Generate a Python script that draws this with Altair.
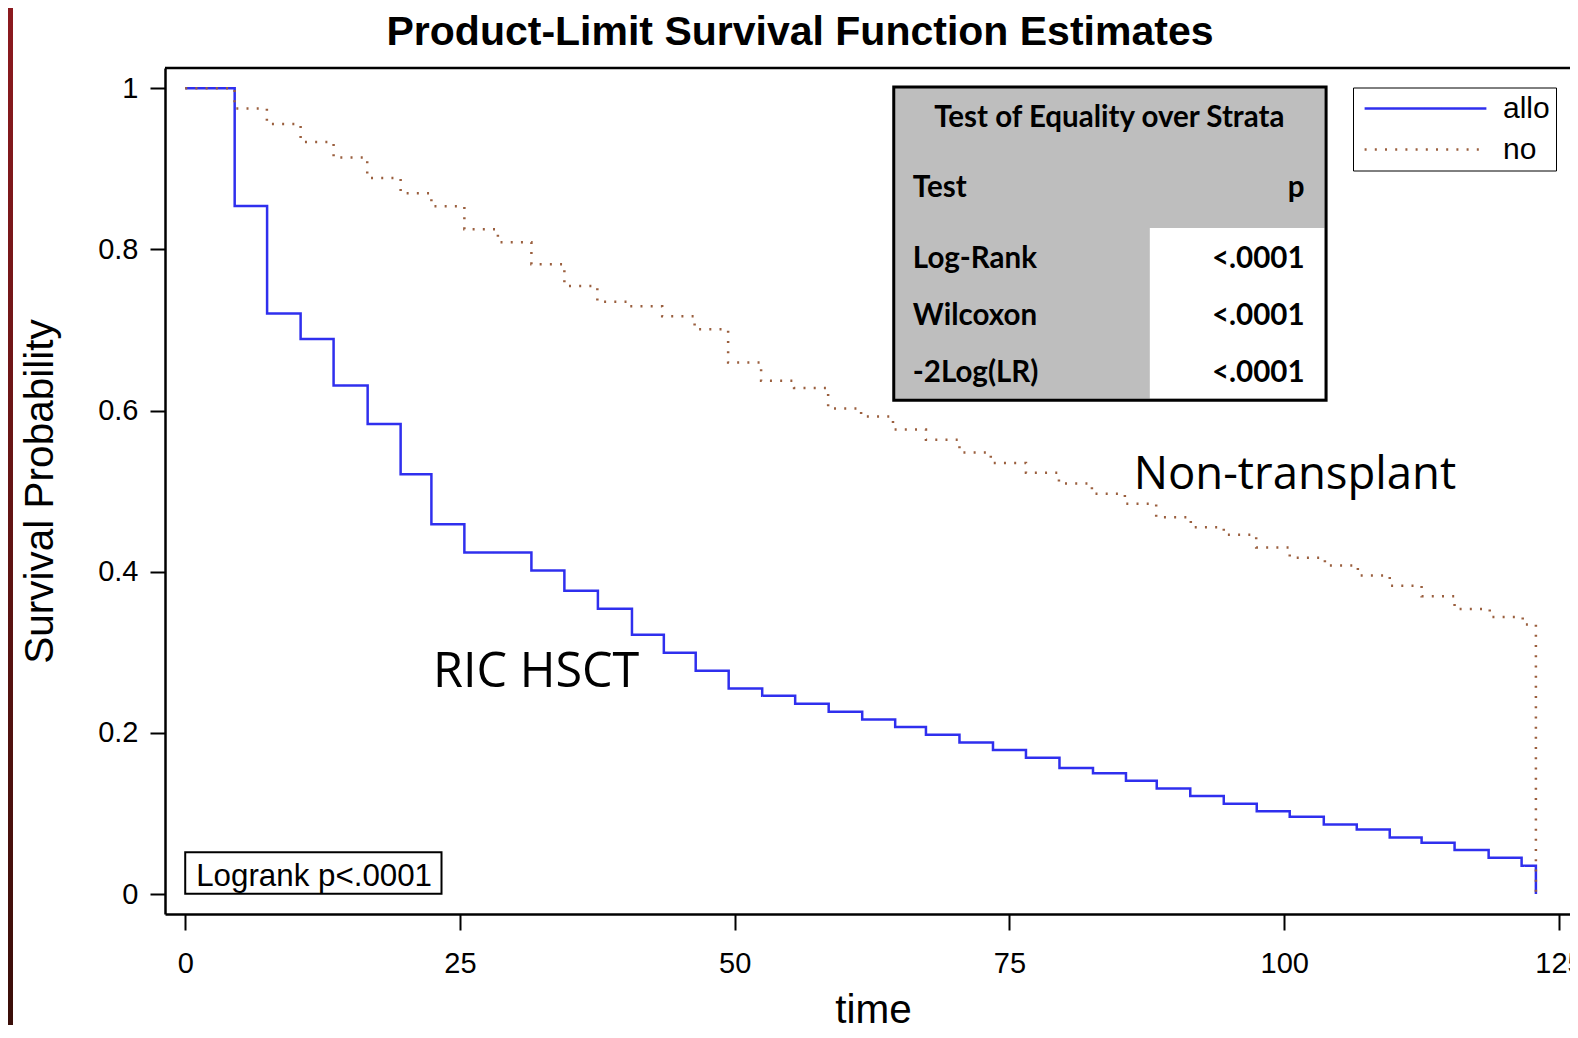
import altair as alt
import pandas as pd

# ---------------- data ----------------
allo_time = [0, 4.5, 7.45, 10.5, 13.5, 16.6, 19.6, 22.4, 25.4, 31.5, 34.5, 37.55,
             40.65, 43.55, 46.45, 49.45, 52.5, 55.5, 58.55, 61.6, 64.6, 67.4, 70.45,
             73.5, 76.5, 79.55, 82.6, 85.6, 88.4, 91.45, 94.5, 97.5, 100.5, 103.6,
             106.6, 109.6, 112.5, 115.5, 118.6, 121.6, 122.9]
allo_surv = [1.0, 0.854, 0.7205, 0.689, 0.631, 0.5835, 0.521, 0.459, 0.424, 0.4016,
             0.3763, 0.354, 0.3217, 0.2994, 0.277, 0.2552, 0.246, 0.2361, 0.2262,
             0.2167, 0.2072, 0.1977, 0.1882, 0.1787, 0.1691, 0.1563, 0.150, 0.1406,
             0.1311, 0.1216, 0.112, 0.1026, 0.0959, 0.0864, 0.0802, 0.0703, 0.0637,
             0.0546, 0.045, 0.0351, 0.0]

no_time = [0, 4.49, 7.43, 10.5, 13.5, 16.56, 19.6, 22.4, 25.4, 28.45, 31.5, 34.5,
           37.5, 40.4, 43.4, 46.35, 49.4, 52.4, 55.4, 58.5, 61.5, 64.4, 67.4, 70.45,
           73.3, 76.5, 79.5, 82.5, 85.5, 88.35, 91.5, 94.5, 97.45, 100.5, 103.7,
           106.7, 109.6, 112.5, 115.5, 118.7, 121.7, 122.9]
no_surv = [1.0, 0.9748, 0.9557, 0.9334, 0.914, 0.8888, 0.8697, 0.8536, 0.825, 0.809,
           0.7816, 0.7547, 0.735, 0.7295, 0.717, 0.701, 0.6596, 0.637, 0.628, 0.6026,
           0.5927, 0.5765, 0.5637, 0.548, 0.535, 0.5227, 0.5095, 0.4967, 0.4843,
           0.4677, 0.4553, 0.4458, 0.430, 0.4173, 0.4078, 0.3954, 0.3825, 0.3697,
           0.3536, 0.3437, 0.3346, 0.0]

groups = ["allo", "no"]
x_ticks = [0, 25, 50, 75, 100, 125]
y_ticks = [0, 0.2, 0.4, 0.6, 0.8, 1]

table_title = "Test of Equality over Strata"
table_head = ["Test", "p"]
test_names = ["Log-Rank", "Wilcoxon", "-2Log(LR)"]
test_p = ["<.0001", "<.0001", "<.0001"]
logrank_note = "Logrank p<.0001"
label_no = "Non-transplant"
label_allo = "RIC HSCT"
chart_title = "Product-Limit Survival Function Estimates"

# ---------------- layout / style ----------------
W, H = 1405, 846
XDOM = [-1.84, -1.84 + W / 10.99]
YDOM = [-0.0248, 1.0252]
BLUE = "#2F2FEE"
BROWN = "#9A5F3E"
GRAY = "#BEBEBE"
SANS = "Liberation Sans"
CAL = "Lato"

xs = alt.Scale(domain=XDOM, nice=False, zero=False)
ys = alt.Scale(domain=YDOM, nice=False, zero=False)

XAX = alt.Axis(values=x_ticks, title="time", tickSize=16, labelPadding=19,
               titleX=708, titleY=108, titleAlign="center", titleBaseline="alphabetic")
YAX = alt.Axis(values=y_ticks, format=".1~f", title="Survival Probability",
               tickSize=15, labelPadding=12, titleX=-125, titleY=423,
               titleAngle=270, titleAlign="center", titleBaseline="middle")

curves = pd.concat([
    pd.DataFrame({"time": allo_time, "surv": allo_surv, "group": "allo"}),
    pd.DataFrame({"time": no_time, "surv": no_surv, "group": "no"}),
], ignore_index=True)

one = pd.DataFrame({"k": [0]})


def X(v):
    return alt.X(datum=v, scale=xs, axis=XAX, title="time")


def Y(v):
    return alt.Y(datum=v, scale=ys, axis=YAX, title="Survival Probability")


def X2(v):
    return alt.X2(datum=v)


def Y2(v):
    return alt.Y2(datum=v)


# decorative slide border on the left
strip = alt.Chart(one).mark_rect(
    color=alt.LinearGradient(
        gradient="linear", x1=0, x2=0, y1=0, y2=1,
        stops=[alt.GradientStop(offset=0, color="#8C1A1F"),
               alt.GradientStop(offset=1, color="#3A0E09")])
).encode(x=alt.value(-157), x2=alt.value(-152), y=alt.value(-60), y2=alt.value(H + 111))

# chart title (drawn as text above the frame)
title = alt.Chart(one).mark_text(align="center", baseline="alphabetic", font=SANS,
                                 fontWeight="bold", fontSize=41, color="black").encode(
    x=alt.value(635), y=alt.value(-23.5), text=alt.value(chart_title))

# top frame line
top_rule = alt.Chart(one).mark_rule(color="black", strokeWidth=2.5).encode(
    x=alt.value(0), x2=alt.value(W), y=alt.value(0))

# table of tests
tab_gray = alt.Chart(one).mark_rect(fill=GRAY).encode(
    x=X(64.47), x2=X2(103.81), y=Y(1.0016), y2=Y2(0.6129))
tab_white = alt.Chart(one).mark_rect(fill="white").encode(
    x=X(87.77), x2=X2(103.67), y=Y(0.8267), y2=Y2(0.6150))
tab_border = alt.Chart(one).mark_rect(fillOpacity=0, stroke="black", strokeWidth=3).encode(
    x=X(64.47), x2=X2(103.81), y=Y(1.0016), y2=Y2(0.6129))

tfont = dict(font=CAL, fontWeight="bold", fontSize=29.5, color="black", baseline="middle")
t_title = alt.Chart(one).mark_text(align="center", **tfont).encode(
    x=X(84.08), y=Y(0.963), text=alt.value(table_title))
t_h1 = alt.Chart(one).mark_text(align="left", **tfont).encode(
    x=X(66.21), y=Y(0.8765), text=alt.value(table_head[0]))
t_h2 = alt.Chart(one).mark_text(align="right", **tfont).encode(
    x=X(101.85), y=Y(0.8765), text=alt.value(table_head[1]))

rows = pd.DataFrame({"name": test_names, "p": test_p, "row": [0, 1, 2]})
rows_name = alt.Chart(rows).transform_calculate(ypos="0.7885 - datum.row * 0.0708").mark_text(
    align="left", **tfont).encode(
    x=X(66.21), y=alt.Y("ypos:Q", scale=ys, axis=YAX, title="Survival Probability"),
    text="name:N")
rows_p = alt.Chart(rows).transform_calculate(ypos="0.7885 - datum.row * 0.0708").mark_text(
    align="right", **tfont).encode(
    x=X(101.85), y=alt.Y("ypos:Q", scale=ys, axis=YAX, title="Survival Probability"),
    text="p:N")

# logrank box
lr_box = alt.Chart(one).mark_rect(fill="white", stroke="black", strokeWidth=2).encode(
    x=X(0), x2=X2(23.32), y=Y(0.0004), y2=Y2(0.0518))
lr_text = alt.Chart(one).mark_text(align="left", baseline="alphabetic", font=SANS,
                                   fontSize=31.3, color="black").encode(
    x=X(1.0), y=Y(0.0099), text=alt.value(logrank_note))

# curve annotations
ann_no = alt.Chart(one).mark_text(align="left", baseline="alphabetic", font="Open Sans",
                                  fontSize=45.5, color="black").encode(
    x=X(86.3), y=Y(0.503), text=alt.value(label_no))
ann_allo = alt.Chart(one).mark_text(align="left", baseline="alphabetic", font="Open Sans",
                                    fontSize=48.5, color="black").encode(
    x=X(22.55), y=Y(0.2565), text=alt.value(label_allo))

legend = alt.Legend(
    title=None, orient="none", legendX=1188, legendY=19.5,
    strokeColor="black", padding=6, fillColor="white",
    symbolType="M-6,0H6", symbolSize=412, symbolStrokeWidth=2.5,
    symbolOffset=51.5, labelOffset=62.5, rowPadding=11,
    labelFont=SANS, labelFontSize=30, labelColor="black", labelBaseline="middle",
)

lines = alt.Chart(curves).mark_line(interpolate="step-after", strokeWidth=2.5,
                                    strokeCap="butt").encode(
    x=alt.X("time:Q", scale=xs, axis=XAX, title="time"),
    y=alt.Y("surv:Q", scale=ys, axis=YAX, title="Survival Probability"),
    color=alt.Color("group:N", scale=alt.Scale(domain=groups, range=[BLUE, BROWN]),
                    legend=legend),
    strokeDash=alt.StrokeDash("group:N",
                              scale=alt.Scale(domain=groups, range=[[1, 0], [2, 8.2]]),
                              legend=legend),
    order="time:Q",
)

chart = alt.layer(
    strip, title, tab_gray, tab_white, tab_border, t_title, t_h1, t_h2, rows_name, rows_p,
    lr_box, lr_text, ann_no, ann_allo, lines, top_rule
).properties(
    width=W, height=H,
    autosize=alt.AutoSizeParams(type="none"),
    padding={"left": 157, "top": 60, "right": 0, "bottom": 111},
    background="white",
).configure_view(
    strokeWidth=0
).configure_axis(
    labelFont=SANS, labelFontSize=29, labelColor="black", tickColor="black",
    tickWidth=2, domainColor="black", domainWidth=2.5, grid=False,
    titleFont=SANS, titleFontSize=40.5, titleFontWeight="normal", titleColor="black",
)

chart.save("out.html", embed_options={"renderer": "svg", "actions": False})
